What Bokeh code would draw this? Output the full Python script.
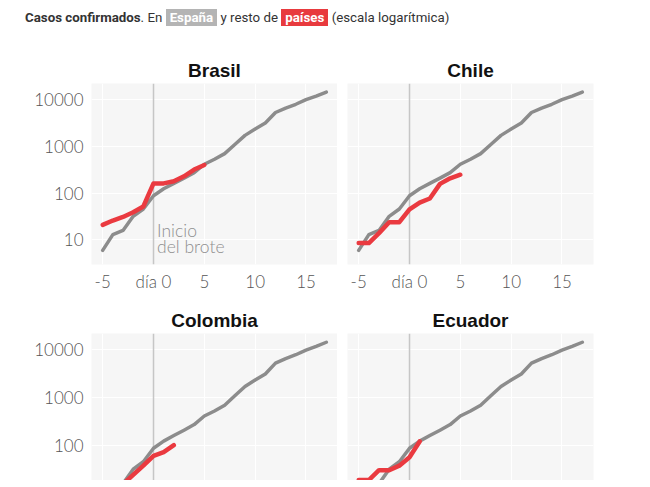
from bokeh.plotting import figure
from bokeh.models import Range1d, FixedTicker, PrintfTickFormatter, Span, Label, Div
from bokeh.layouts import column, row
from bokeh.embed import file_html
from bokeh.resources import INLINE

# ---- data ----
spain_days = list(range(-5, 18))
spain_cases = [6, 13, 16, 32, 46, 88, 124, 162, 210, 275, 415, 530, 700,
               1100, 1720, 2350, 3150, 5300, 6600, 7950, 9950, 11900, 14500]

brasil_days = list(range(-5, 6))
brasil_cases = [21, 26, 31, 39, 52, 162, 162, 180, 230, 320, 400]

chile_days = list(range(-5, 6))
chile_cases = [8.6, 8.6, 14, 24, 24, 45, 63, 77, 158, 208, 248]

colombia_days = list(range(-4, 3))
colombia_cases = [9, 15.5, 24.5, 38, 61, 73, 102]

ecuador_days = list(range(-5, 2))
ecuador_cases = [19, 19, 30.5, 30.5, 38, 57, 122]

x_ticks = [-5, 0, 5, 10, 15]
x_tick_labels = {-5: "-5", 0: "día 0", 5: "5", 10: "10", 15: "15"}
y_ticks = [10, 100, 1000, 10000]

GRAY = "#8c8c8c"
RED = "#ea3a40"
TICK_FONT = "Lato Light"


def panel(name, days, cases, width, height, b_left, b_right, b_top, b_bottom,
          show_y, show_x, y_lo):
    p = figure(width=width, height=height, title=name,
               x_range=Range1d(-6.1, 18.1), y_range=Range1d(y_lo, 22100),
               y_axis_type="log", output_backend="svg", toolbar_location=None,
               min_border_left=b_left, min_border_right=b_right,
               min_border_top=b_top, min_border_bottom=b_bottom)
    p.title.align = "center"
    p.title.text_font = "Liberation Sans"
    p.title.text_font_style = "bold"
    p.title.text_font_size = "19px"
    p.title.text_color = "#111111"
    p.title.standoff = 6
    p.background_fill_color = "#f6f6f6"
    p.border_fill_color = "white"
    p.outline_line_color = None

    p.xaxis.ticker = FixedTicker(ticks=x_ticks)
    p.xaxis.major_label_overrides = x_tick_labels
    p.yaxis.ticker = FixedTicker(ticks=y_ticks)
    p.yaxis.formatter = PrintfTickFormatter(format="%d")
    p.xgrid.ticker = FixedTicker(ticks=x_ticks)
    p.ygrid.ticker = FixedTicker(ticks=y_ticks)
    for ax in (p.xaxis, p.yaxis):
        ax.axis_line_color = None
        ax.major_tick_line_color = None
        ax.minor_tick_line_color = None
        ax.major_tick_out = 0
        ax.major_tick_in = 0
        ax.minor_tick_out = 0
        ax.major_label_text_font = TICK_FONT
        ax.major_label_text_font_size = "17px"
        ax.major_label_text_color = "#555555"
    p.xaxis.major_label_standoff = 6
    p.yaxis.major_label_standoff = 8
    p.xaxis.visible = show_x
    p.yaxis.visible = show_y
    p.xgrid.grid_line_color = "white"
    p.ygrid.grid_line_color = "white"
    p.xgrid.grid_line_width = 1
    p.ygrid.grid_line_width = 1

    p.add_layout(Span(location=0, dimension="height", line_color="#c6c6c6",
                      line_width=1.5, level="underlay"))
    p.line(spain_days, spain_cases, line_color=GRAY, line_width=3.5,
           line_join="round", line_cap="round")
    p.line(days, cases, line_color=RED, line_width=4.5,
           line_join="round", line_cap="round")
    return p


header = Div(
    text=('<div style="font-family:Roboto, sans-serif;font-size:13.3px;color:#333;'
          'padding-left:20px;padding-top:4px;white-space:nowrap;line-height:17px">'
          '<b>Casos confirmados</b>. En '
          '<span style="background:#b4b4b4;color:#fff;font-weight:bold;padding:1px 4px">España</span>'
          ' y resto de '
          '<span style="background:#e83a3e;color:#fff;font-weight:bold;padding:1px 4px">países</span>'
          ' (escala logarítmica)</div>'),
    width=620, height=34)

p1 = panel("Brasil", brasil_days, brasil_cases, 337, 250, 91, 0, 39, 26, True, True, 2.99)
p1.add_layout(Label(x=0.35, y=15.9, text="Inicio", text_font=TICK_FONT,
                    text_font_size="17.5px", text_color="#8f8f8f",
                    text_baseline="middle", text_align="left"))
p1.add_layout(Label(x=0.35, y=7.1, text="del brote", text_font=TICK_FONT,
                    text_font_size="17.5px", text_color="#8f8f8f",
                    text_baseline="middle", text_align="left"))
p2 = panel("Chile", chile_days, chile_cases, 286, 250, 10, 30, 39, 26, False, True, 2.99)
p3 = panel("Colombia", colombia_days, colombia_cases, 337, 186, 91, 0, 39, 0, True, False, 18.6)
p4 = panel("Ecuador", ecuador_days, ecuador_cases, 286, 186, 10, 30, 39, 0, False, False, 18.6)

layout = column(header, row(p1, p2), row(p3, p4))
open("out.html", "w").write(file_html(layout, INLINE))
